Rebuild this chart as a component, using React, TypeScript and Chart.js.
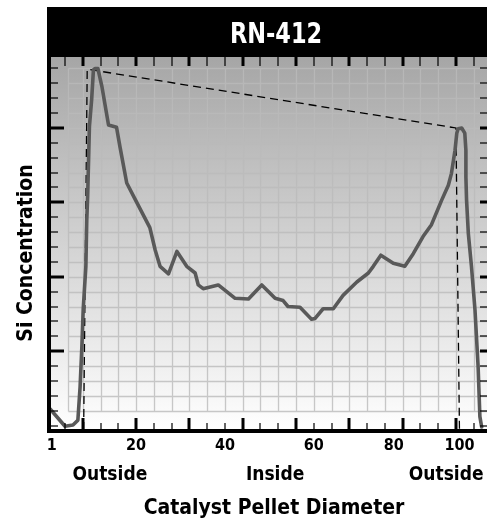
import React, { useEffect, useRef } from 'react';
import { Chart, registerables } from 'chart.js';

Chart.register(...registerables);

// ---- data ----
const chartTitle = 'RN-412';
const yAxisTitle = 'Si Concentration';
const xAxisTitle = 'Catalyst Pellet Diameter';

const profileX = [0.7, 4.0, 5.8, 6.9, 7.4, 7.8, 8.1, 8.7, 8.9, 9.1, 9.5, 10.0, 10.4, 10.8, 11.4, 12.3, 13.8, 15.6, 16.4, 17.9, 19.8, 23.1, 24.3, 25.4, 27.3, 29.2, 31.4, 33.3, 34.0, 35.1, 38.5, 42.3, 45.3, 48.3, 51.3, 53.1, 54.2, 56.9, 59.5, 60.3, 62.1, 64.4, 66.6, 69.7, 72.3, 73.4, 75.1, 77.9, 80.5, 82.4, 84.6, 86.5, 88.8, 90.3, 91.0, 91.8, 92.2, 92.5, 93.3, 94.0, 94.25, 94.25, 94.4, 94.8, 95.5, 96.3, 97.0, 97.4, 97.8];
const profileY = [1.1, -0.05, 0.03, 0.36, 2.6, 5.3, 7.8, 10.7, 13.8, 15.4, 20.1, 21.9, 23.9, 24.0, 24.0, 22.8, 20.2, 20.05, 18.7, 16.3, 15.2, 13.3, 11.8, 10.7, 10.2, 11.7, 10.7, 10.25, 9.45, 9.2, 9.45, 8.55, 8.5, 9.45, 8.55, 8.4, 8.0, 7.95, 7.15, 7.2, 7.85, 7.85, 8.75, 9.65, 10.25, 10.7, 11.45, 10.9, 10.7, 11.55, 12.7, 13.5, 15.15, 16.15, 16.95, 18.5, 19.65, 19.95, 20.0, 19.65, 18.5, 16.7, 15.15, 12.9, 10.7, 7.75, 3.95, 0.6, -0.1];

const envelopeX = [8.2, 9.0, 92.0, 92.8];
const envelopeY = [-0.3, 23.95, 20.0, -0.3];

const xTickLabels = ['1', '20', '40', '60', '80', '100'];
const xTickValues = [1, 20, 40, 60, 78, 92.8];
const regionLabels = ['Outside', 'Inside', 'Outside'];
const regionValues = [14.1, 51.3, 89.8];

// ---- axis ranges / styling ----
const X_MIN = 0.4, X_MAX = 99.0;
const Y_MIN = -0.3, Y_MAX = 24.77;
const GRID_LEFT = 4.7;
const FONT = "'DejaVu Sans Condensed', 'DejaVu Sans', sans-serif";

const decorPlugin = {
  id: 'decor',
  beforeDatasetsDraw(chart: any) {
    const { ctx, chartArea: a, scales } = chart;
    const x = scales.x, y = scales.y;
    ctx.save();
    const g = ctx.createLinearGradient(0, a.top, 0, a.bottom);
    g.addColorStop(0, '#a6a6a6');
    g.addColorStop(1, '#ffffff');
    ctx.fillStyle = g;
    ctx.fillRect(a.left, a.top, a.right - a.left, a.bottom - a.top);

    ctx.strokeStyle = 'rgba(186,186,186,0.8)';
    ctx.lineWidth = 1.3;
    const gx0 = Math.round(x.getPixelForValue(GRID_LEFT)) + 0.5;
    const gy0 = Math.round(y.getPixelForValue(24)) + 0.5;
    const gy1 = Math.round(y.getPixelForValue(1)) + 0.5;
    ctx.beginPath();
    for (let v = 1; v <= 24; v++) {
      const p = Math.round(y.getPixelForValue(v)) + 0.5;
      ctx.moveTo(gx0, p);
      ctx.lineTo(a.right, p);
    }
    const vx = [GRID_LEFT];
    for (let v = 8; v <= 98; v += 4) vx.push(v);
    vx.forEach((v) => {
      const p = Math.round(x.getPixelForValue(v)) + 0.5;
      ctx.moveTo(p, gy0);
      ctx.lineTo(p, gy1);
    });
    ctx.stroke();
    ctx.restore();
  },
  afterDatasetsDraw(chart: any) {
    const { ctx, chartArea: a, scales } = chart;
    const x = scales.x, y = scales.y;
    ctx.save();
    ctx.fillStyle = '#000';
    // x ticks (top and bottom)
    for (let v = 4; v <= 98; v += 4) {
      const p = Math.round(x.getPixelForValue(v));
      const major = (v - 8) % 12 === 0;
      const w = major ? 3 : 1.2;
      ctx.fillRect(p - w / 2, a.bottom - (major ? 12 : 7), w, major ? 12 : 7);
      ctx.fillRect(p - w / 2, a.top, w, 9);
    }
    // y ticks (left and right)
    for (let v = 0; v <= 24; v++) {
      const p = Math.round(y.getPixelForValue(v));
      const major = v > 0 && v % 5 === 0;
      const h = major ? 3 : 1.2;
      ctx.fillRect(a.left, p - h / 2, major ? 15 : 9, h);
      ctx.fillRect(a.right - 7, p - h / 2, 7, h);
    }
    // frame
    ctx.fillRect(a.left - 2, a.top - 50, 4, a.bottom - a.top + 53);
    ctx.fillRect(a.left - 2, a.bottom - 1, a.right - a.left + 2, 4);
    // title bar
    ctx.fillRect(a.left - 2, a.top - 50, a.right - a.left + 2, 50);
    ctx.fillStyle = '#fff';
    ctx.textAlign = 'center';
    ctx.textBaseline = 'alphabetic';
    ctx.font = `bold 29px ${FONT}`;
    ctx.save();
    ctx.translate(276, a.top - 14);
    ctx.scale(0.86, 1);
    ctx.fillText(chartTitle, 0, 0);
    ctx.restore();

    ctx.fillStyle = '#000';
    ctx.font = `bold 16px ${FONT}`;
    xTickLabels.forEach((t, i) => ctx.fillText(t, x.getPixelForValue(xTickValues[i]), a.bottom + 20));
    ctx.font = `bold 19px ${FONT}`;
    regionLabels.forEach((t, i) => ctx.fillText(t, x.getPixelForValue(regionValues[i]), a.bottom + 50));
    ctx.font = `bold 21px ${FONT}`;
    ctx.fillText(xAxisTitle, 274, a.bottom + 84);

    ctx.translate(32, 253);
    ctx.rotate(-Math.PI / 2);
    ctx.fillText(yAxisTitle, 0, 0);
    ctx.restore();
  },
};

export default function App() {
  const ref = useRef<HTMLCanvasElement | null>(null);
  useEffect(() => {
    if (!ref.current) return;
    const chart = new Chart(ref.current, {
      type: 'line',
      data: {
        datasets: [
          {
            label: 'Si',
            data: profileX.map((v, i) => ({ x: v, y: profileY[i] })),
            borderColor: '#595959',
            borderWidth: 3.6,
            pointRadius: 0,
            tension: 0,
            borderJoinStyle: 'round',
            borderCapStyle: 'round',
          },
          {
            label: 'envelope',
            data: envelopeX.map((v, i) => ({ x: v, y: envelopeY[i] })),
            borderColor: '#000',
            borderWidth: 1.3,
            borderDash: [8, 5],
            pointRadius: 0,
            tension: 0,
          },
        ],
      },
      options: {
        responsive: false,
        animation: false,
        layout: { padding: { left: 49, top: 57, right: 0, bottom: 90 } },
        scales: {
          x: { type: 'linear', min: X_MIN, max: X_MAX, display: false },
          y: { type: 'linear', min: Y_MIN, max: Y_MAX, display: false },
        },
        plugins: { legend: { display: false }, tooltip: { enabled: false }, title: { display: false } },
      },
      plugins: [decorPlugin],
    });
    return () => chart.destroy();
  }, []);
  return (
    <div style={{ position: 'fixed', left: 0, top: 0, width: 487, height: 520, background: '#fff' }}>
      <canvas ref={ref} width={487} height={520} style={{ display: 'block' }} />
    </div>
  );
}
